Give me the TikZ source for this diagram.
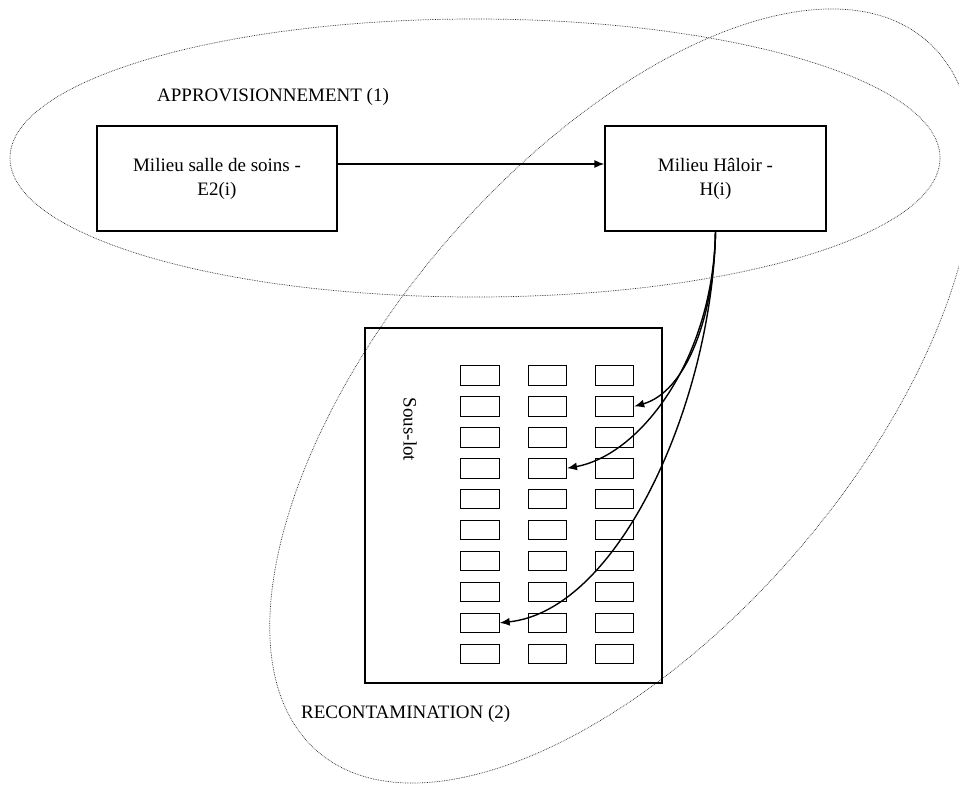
\documentclass[tikz,border=0pt]{standalone}
\usepackage{fontspec}
\setmainfont{Liberation Serif}
\usetikzlibrary{arrows.meta}
\begin{document}
\begin{tikzpicture}[x=1pt,y=-1pt,
  zone/.style={densely dotted, line width=0.7pt, black!85},
  bigbox/.style={draw, line width=1.2pt, inner sep=0pt, align=center, font=\fontsize{19}{24}\selectfont},
  cell/.style={draw, line width=0.9pt, minimum width=38.5pt, minimum height=19.5pt, inner sep=0pt},
  lbl/.style={font=\fontsize{19}{24}\selectfont, inner sep=0pt},
  flow/.style={line width=1.4pt, -{Latex[length=10pt,width=8pt]}}]
\clip (0,0) rectangle (959,785);
\fill[white] (0,0) rectangle (959,785);

% zones
\draw[zone] (475,158) ellipse [x radius=465, y radius=139];
\draw[zone, rotate around={49.5:(622,396)}] (622,396) ellipse [x radius=468, y radius=234];

% labels
\node[lbl, anchor=base west] (zone1) at (157,101.7) {APPROVISIONNEMENT (1)};
\node[lbl, anchor=base west] (zone2) at (301,718) {RECONTAMINATION (2)};

% main boxes
\node[bigbox, minimum width=240pt, minimum height=105pt] (A) at (217,178.5) {Milieu salle de soins -\\E2(i)};
\node[bigbox, minimum width=221pt, minimum height=105pt] (B) at (715.5,178.5) {Milieu Hâloir -\\H(i)};

% sous-lot box
\node[draw, line width=1.1pt, minimum width=297pt, minimum height=355pt, inner sep=0pt] (lot) at (513.5,505.5) {};
\node[lbl, rotate=-90] (lotlabel) at (410,429.5) {Sous-lot};

\foreach \c/\cx in {1/480.0, 2/547.3, 3/614.5} {
  \foreach \r in {1,...,10} {
    \node[cell] (s-\r-\c) at (\cx, {375.5+(\r-1)*30.92}) {};
  }
}

% connectors
\draw[flow] ([yshift=14.5pt]A.east) -- ([yshift=14.5pt]B.west);
\draw[flow] (B.south) .. controls (714,320) and (685,392) .. (s-2-3.east);
\draw[flow] (B.south) .. controls (713,360) and (640,455) .. (s-4-2.east);
\draw[flow] (B.south) .. controls (712,400) and (620,610) .. (s-9-1.east);
\end{tikzpicture}
\end{document}
